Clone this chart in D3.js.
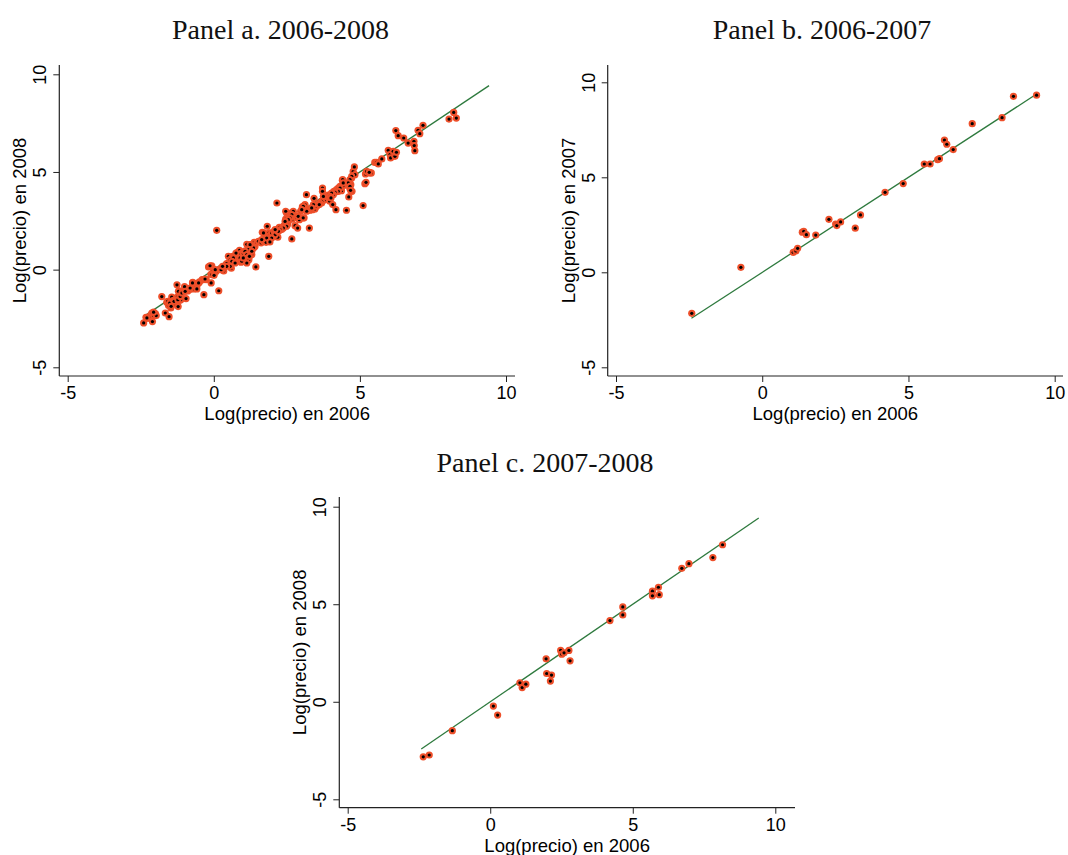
<!DOCTYPE html>
<html>
<head>
<meta charset="utf-8">
<script src="https://cdn.jsdelivr.net/npm/d3@7"></script>
<style>
    body { margin: 0; background: #fff; }
    svg { display: block; }
</style>
</head>
<body>
<div id="graphContainer"></div>
<script>
"use strict";

// Panel titles and axis labels
const panelTitles = ["Panel a. 2006-2008", "Panel b. 2006-2007", "Panel c. 2007-2008"];
const xAxisLabels = ["Log(precio) en 2006", "Log(precio) en 2006", "Log(precio) en 2006"];
const yAxisLabels = ["Log(precio) en 2008", "Log(precio) en 2007", "Log(precio) en 2008"];
const tickValues = [-5, 0, 5, 10];

// 45 degree reference line (start, end)
const fitLineX = [-2.42, 9.42];

// Panel a: log price 2006 vs 2008
const panelAData = [
    [-2.40, -2.73], [-2.32, -2.44], [-2.26, -2.49], [-2.18, -2.37], [-2.12, -2.22], [-2.06, -2.35],
    [-2.10, -2.66], [-2.00, -2.25], [-1.97, -2.35], [-1.78, -1.38], [-1.66, -2.22], [-1.53, -2.41],
    [-1.61, -1.67], [-1.55, -1.83], [-1.47, -1.96], [-1.44, -1.40], [-1.38, -1.57], [-1.36, -1.76],
    [-1.26, -0.78], [-1.25, -1.40], [-1.22, -1.89], [-1.17, -1.57], [-1.18, -1.09], [-1.13, -1.54],
    [-1.00, -0.87], [-0.95, -1.48], [-0.89, -1.09], [-0.83, -1.02], [-0.72, -0.65], [-0.69, -0.99],
    [-0.62, -0.85], [-0.55, -0.72], [-0.49, -0.63], [-0.40, -0.51], [-0.34, -1.28], [-0.26, -0.51],
    [-0.18, 0.14], [-0.09, -0.68], [-0.10, -0.24], [-0.07, 0.20], [-0.01, -0.03], [0.10, 2.01],
    [0.08, -0.10], [0.17, -1.08], [0.23, 0.05], [0.33, 0.09], [0.34, -0.07], [0.44, 0.31],
    [0.50, 0.68], [0.56, 0.51], [0.60, 0.07], [0.65, 0.68], [0.74, 0.72], [0.79, 0.82],
    [0.81, 0.89], [0.84, 0.65], [0.88, 0.99], [0.93, 0.38], [0.96, 0.85], [0.99, 0.89],
    [1.05, 0.77], [1.08, 0.96], [1.13, 1.30], [1.15, 0.48], [1.20, 0.51], [1.22, 1.06],
    [1.25, 0.94], [1.30, 0.77], [1.33, 1.16], [1.38, 1.40], [1.41, 1.19], [1.44, 0.14],
    [1.47, 1.40], [1.53, 1.45], [1.62, 1.37], [1.66, 1.91], [1.70, 1.45], [1.79, 1.40],
    [1.83, 2.22], [1.88, 0.68], [1.89, 1.88], [1.92, 1.74], [1.98, 1.88], [2.06, 1.96],
    [2.15, 2.01], [2.16, 3.41], [2.19, 1.66], [2.24, 2.01], [2.32, 2.05], [2.38, 2.22],
    [2.46, 2.59], [2.49, 2.90], [2.55, 2.47], [2.59, 2.73], [2.63, 2.90], [2.67, 1.57],
    [2.69, 2.59], [2.72, 2.90], [2.76, 2.73], [2.78, 2.25], [2.84, 2.65], [2.87, 2.13],
    [2.93, 2.56], [2.97, 2.99], [3.03, 3.21], [3.09, 2.65], [3.12, 3.24], [3.17, 3.84],
    [3.23, 3.04], [3.27, 2.13], [3.29, 3.04], [3.38, 3.07], [3.43, 3.65], [3.46, 3.11],
    [3.52, 3.24], [3.58, 3.33], [3.69, 3.41], [3.72, 4.18], [3.72, 4.01], [3.77, 3.55],
    [3.86, 3.75], [3.92, 3.82], [3.97, 3.50], [4.03, 3.84], [4.07, 3.33], [4.11, 4.01],
    [4.18, 3.07], [4.20, 4.10], [4.26, 4.18], [4.32, 4.27], [4.37, 4.04], [4.40, 4.57],
    [4.43, 4.30], [4.54, 3.04], [4.62, 3.72], [4.65, 4.18], [4.69, 4.35], [4.72, 4.69],
    [4.73, 4.01], [4.77, 5.03], [4.81, 5.26], [4.83, 4.86], [5.11, 3.28], [5.17, 4.40],
    [5.21, 4.47], [5.19, 4.90], [5.23, 5.03], [5.34, 4.95], [5.39, 4.95], [5.51, 5.49],
    [5.57, 5.49], [5.63, 5.41], [5.75, 5.67], [5.97, 6.11], [6.03, 5.89], [6.05, 5.72],
    [6.14, 6.06], [6.20, 5.80], [6.25, 6.01], [6.23, 7.12], [6.31, 6.86], [6.50, 6.74],
    [6.65, 6.48], [6.85, 6.57], [6.86, 6.35], [6.88, 6.09], [6.99, 7.13], [7.05, 6.96],
    [7.16, 7.39], [8.05, 7.71], [8.21, 8.05], [8.30, 7.76],
    [2.24, 2.17], [2.10, 1.79], [1.98, 1.62], [1.70, 1.88], [1.81, 1.62], [1.92, 1.42],
    [1.64, 1.54], [1.36, 1.11], [1.24, 1.28], [1.18, 1.02], [0.96, 0.77], [0.84, 0.77],
    [0.76, 0.85], [1.07, 0.94], [1.13, 0.77], [1.30, 0.94], [1.22, 0.68], [0.90, 0.60],
    [0.96, 0.43], [0.67, 0.60], [0.62, 0.43], [0.73, 0.34], [0.56, 0.17], [0.44, 0.17],
    [0.27, 0.00], [0.05, 0.00], [-0.13, 0.17], [-0.07, -0.26], [0.01, -0.29], [-0.35, -0.51],
    [1.13, 0.34], [1.01, 0.60], [2.18, 1.96], [2.46, 2.99], [2.52, 2.30],
    [4.72, 4.78], [4.66, 4.61], [4.60, 4.44], [4.66, 4.27], [4.68, 4.06], [4.41, 4.61],
    [4.43, 4.44], [4.32, 4.18], [4.26, 4.01], [4.15, 3.96], [4.09, 3.84], [4.03, 3.92],
    [3.97, 3.75], [4.01, 3.67], [3.75, 3.75], [3.69, 3.50], [3.63, 3.41], [3.61, 3.33],
    [3.41, 3.33], [3.35, 3.16], [3.18, 2.99], [3.12, 3.33], [3.06, 3.24], [3.01, 3.07],
    [2.89, 2.73], [2.72, 2.99], [2.67, 2.82], [2.61, 2.65], [2.55, 2.56], [2.44, 2.47],
    [2.49, 2.22], [2.38, 2.13], [2.27, 2.05], [2.21, 1.96], [2.10, 2.05], [3.06, 2.65],
    [5.32, 4.98],
    [-2.29, -2.47], [-2.06, -2.18], [-1.58, -1.62], [-1.51, -1.71], [-1.46, -1.88], [-1.36, -1.62],
    [-1.23, -1.54], [-1.21, -1.11], [-1.15, -1.37], [-1.09, -1.19], [-0.98, -1.11], [-0.81, -0.94],
    [-0.73, -0.68], [-0.58, -0.99], [-0.52, -0.68], [-0.30, -0.48], [-0.13, 0.20], [0.25, 0.00],
    [0.30, 0.17]
];

// Panel b: log price 2006 vs 2007
const panelBData = [
    [-2.41, -2.16], [-0.73, 0.26], [1.06, 1.05], [1.15, 1.12], [1.21, 1.26], [1.37, 2.11],
    [1.42, 2.16], [1.51, 1.98], [1.83, 1.96], [2.28, 2.79], [2.51, 2.54], [2.55, 2.46],
    [2.68, 2.65], [3.18, 2.32], [3.36, 3.02], [4.20, 4.21], [4.82, 4.67], [5.54, 5.70],
    [5.74, 5.70], [6.00, 5.93], [6.06, 5.98], [6.23, 6.96], [6.31, 6.74], [6.53, 6.46],
    [7.18, 7.82], [8.20, 8.14], [8.59, 9.26], [9.38, 9.32]
];

// Panel c: log price 2007 vs 2008
const panelCData = [
    [-2.35, -2.82], [-2.14, -2.73], [-1.33, -1.48], [0.11, -0.22], [0.26, -0.68], [1.04, 0.97],
    [1.12, 0.73], [1.25, 0.90], [1.96, 2.20], [1.98, 1.45], [2.15, 1.37], [2.11, 1.06],
    [2.47, 2.63], [2.51, 2.44], [2.59, 2.51], [2.76, 2.63], [2.80, 2.10], [4.20, 4.16],
    [4.65, 4.86], [4.65, 4.45], [5.69, 5.67], [5.69, 5.43], [5.90, 5.87], [5.93, 5.49],
    [6.72, 6.84], [6.97, 7.08], [7.81, 7.39], [8.15, 8.05]
];

const panelData = [panelAData, panelBData, panelCData];

// Layout of each panel in pixels
const layout = [
    { x: [67.7, 506], y: [367.3, 74.3], left: 59.3, right: 515, top: 65, bottom: 376, titleX: 280.5, titleY: 39 },
    { x: [616, 1054.7], y: [367.3, 82.3], left: 607.7, right: 1063, top: 65, bottom: 376, titleX: 822, titleY: 39 },
    { x: [347.7, 775.3], y: [799.3, 506.7], left: 339.3, right: 795, top: 497, bottom: 807.7, titleX: 545, titleY: 472 }
];

const width = 1068, height = 855;
const sansFont = "'Liberation Sans', Arial, sans-serif";
const serifFont = "'Liberation Serif', 'Times New Roman', serif";

// plain hyphen for negatives, as in the original
const tickFormat = d => String(d);

const svg = d3.select("#graphContainer").append("svg")
    .attr("width", width)
    .attr("height", height)
    .attr("viewBox", [0, 0, width, height]);

svg.append("rect").attr("width", width).attr("height", height).attr("fill", "#fff");

layout.forEach(function (p, i) {
    const g = svg.append("g");

    const xScale = d3.scaleLinear().domain([-5, 10]).range(p.x);
    const yScale = d3.scaleLinear().domain([-5, 10]).range(p.y);

    // Panel title
    g.append("text")
        .attr("x", p.titleX)
        .attr("y", p.titleY)
        .attr("text-anchor", "middle")
        .attr("font-family", serifFont)
        .attr("font-size", 28)
        .attr("fill", "#111")
        .text(panelTitles[i]);

    // x-axis
    g.append("g")
        .attr("transform", `translate(0,${p.bottom})`)
        .call(d3.axisBottom(xScale).tickValues(tickValues).tickSize(6).tickFormat(tickFormat))
        .call(ax => ax.select(".domain").remove())
        .call(ax => ax.selectAll(".tick line").attr("stroke", "#222"))
        .call(ax => ax.selectAll(".tick text")
            .attr("font-family", sansFont)
            .attr("font-size", 18)
            .attr("fill", "#000")
            .attr("dy", 0)
            .attr("y", 23));

    // y-axis with rotated tick labels
    g.append("g")
        .attr("transform", `translate(${p.left},0)`)
        .call(d3.axisLeft(yScale).tickValues(tickValues).tickSize(6).tickFormat(tickFormat))
        .call(ax => ax.select(".domain").remove())
        .call(ax => ax.selectAll(".tick line").attr("stroke", "#222"))
        .call(ax => ax.selectAll(".tick text")
            .attr("font-family", sansFont)
            .attr("font-size", 18)
            .attr("fill", "#000")
            .attr("transform", "rotate(-90)")
            .attr("x", 0)
            .attr("y", -13)
            .attr("dy", 0)
            .attr("text-anchor", "middle"));

    // Axis lines
    g.append("line")
        .attr("x1", p.left).attr("x2", p.right)
        .attr("y1", p.bottom).attr("y2", p.bottom)
        .attr("stroke", "#222").attr("stroke-width", 1.2);
    g.append("line")
        .attr("x1", p.left).attr("x2", p.left)
        .attr("y1", p.top).attr("y2", p.bottom)
        .attr("stroke", "#222").attr("stroke-width", 1.2);

    // Axis titles
    g.append("text")
        .attr("x", (p.left + p.right) / 2)
        .attr("y", p.bottom + 44)
        .attr("text-anchor", "middle")
        .attr("font-family", sansFont)
        .attr("font-size", 18.5)
        .text(xAxisLabels[i]);

    g.append("text")
        .attr("transform", `translate(${p.left - 33},${(p.top + p.bottom) / 2}) rotate(-90)`)
        .attr("text-anchor", "middle")
        .attr("font-family", sansFont)
        .attr("font-size", 18.5)
        .text(yAxisLabels[i]);

    // 45 degree line
    const line = d3.line()
        .x(d => xScale(d))
        .y(d => yScale(d));

    g.append("path")
        .datum(fitLineX)
        .attr("fill", "none")
        .attr("stroke", "#2e7a3e")
        .attr("stroke-width", 1.3)
        .attr("d", line);

    // Markers: orange ring with black centre
    const pts = g.append("g")
        .selectAll("g")
        .data(panelData[i])
        .join("g")
        .attr("transform", d => `translate(${xScale(d[0])},${yScale(d[1])})`);

    pts.append("circle")
        .attr("r", 3.6)
        .attr("fill", "#ee4f2a");
    pts.append("circle")
        .attr("r", 1.6)
        .attr("fill", "#000");
});
</script>
</body>
</html>
